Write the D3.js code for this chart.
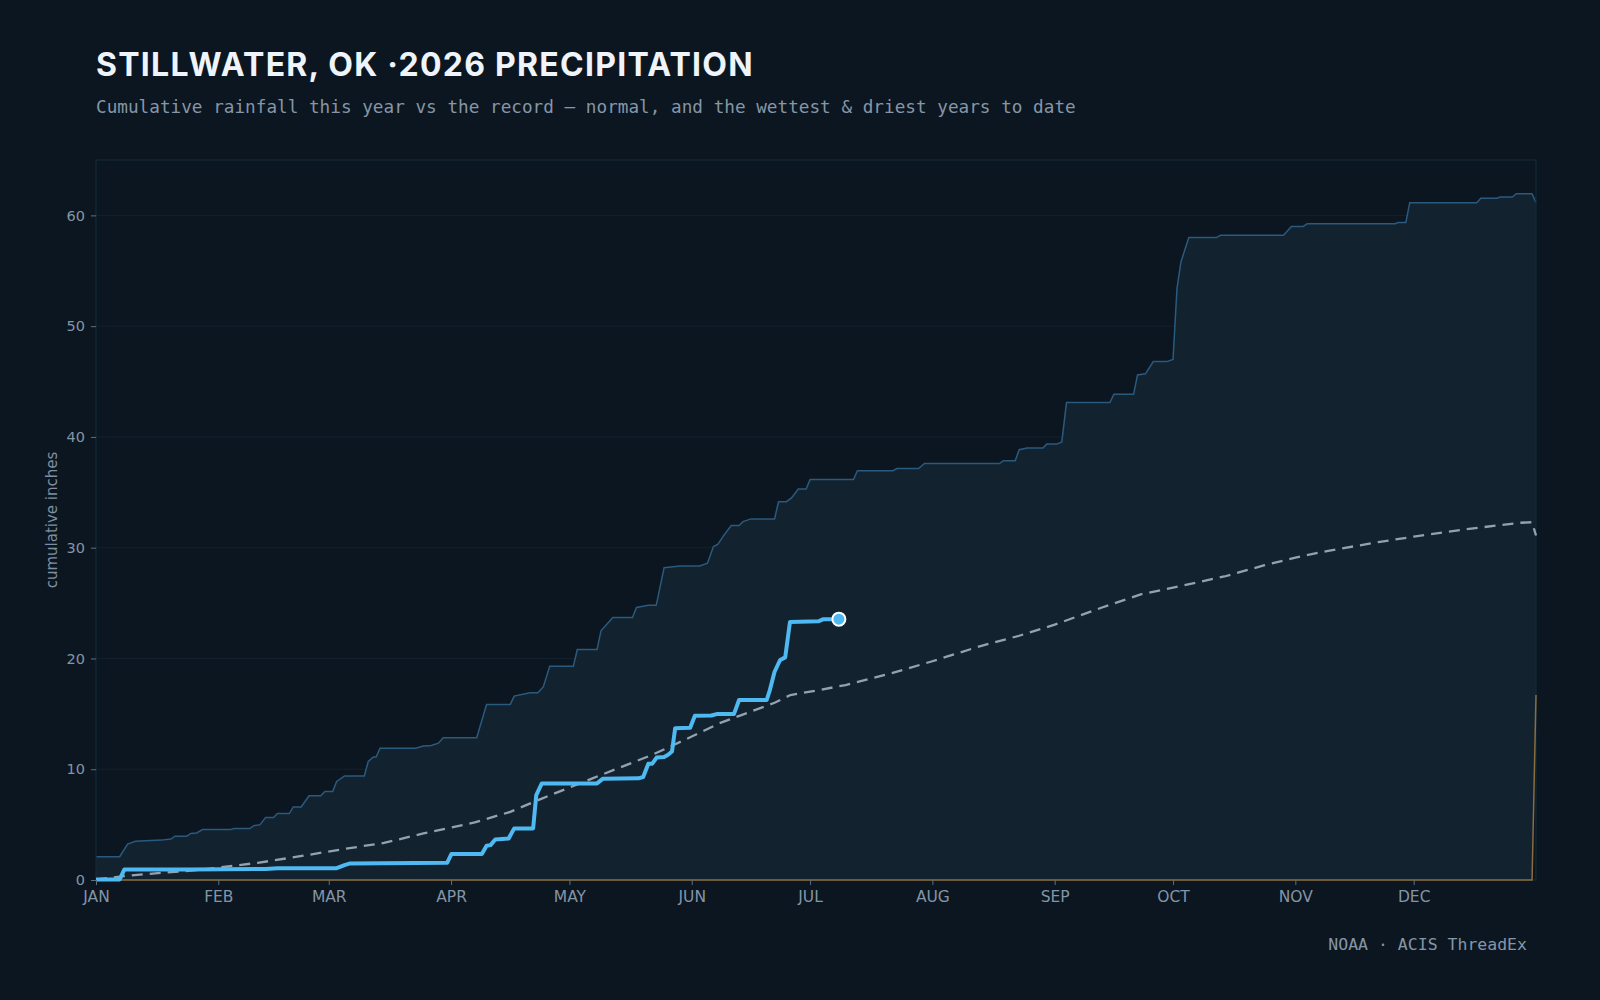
<!DOCTYPE html>
<html>
<head>
<meta charset="utf-8">
<script src="https://cdn.jsdelivr.net/npm/d3@7"></script>
<style>
  html, body { margin: 0; padding: 0; background: #0c1620; }
  svg { display: block; }
</style>
</head>
<body>
<div id="chart"></div>
<script>
// cumulative inches, keyed by day of year (0 = Jan 1)
const wettest = [[0,2.1],[6,2.1],[8,3.25],[10,3.5],[16.5,3.6],[19,3.7],[20,3.95],[23,3.95],[24,4.2],[25.5,4.25],[27,4.55],[34,4.55],[35,4.65],[39,4.65],[40,4.9],[41.6,5.0],[43,5.65],[45,5.65],[46,6.0],[49,6.0],[50,6.6],[52,6.6],[54,7.6],[57,7.6],[58,8.0],[60,8.0],[61,8.9],[63,9.4],[68,9.4],[69,10.7],[70.3,11.1],[71,11.1],[72,11.9],[81,11.9],[83,12.1],[85,12.15],[86.8,12.35],[88,12.85],[96.5,12.85],[99,15.85],[105,15.85],[106,16.6],[110,16.9],[112,16.9],[113.4,17.45],[115,19.3],[121,19.3],[122,20.8],[127,20.8],[128,22.5],[131,23.7],[136,23.7],[137,24.6],[140,24.8],[142,24.8],[144,28.2],[148,28.35],[153,28.35],[155,28.6],[156.5,30.1],[157.6,30.3],[159,31.05],[161,32.0],[163,32.0],[164,32.35],[166,32.6],[172,32.6],[173,34.15],[175,34.15],[176.3,34.5],[178,35.3],[180,35.3],[181,36.15],[192,36.15],[193,36.95],[202,36.95],[203,37.15],[208.5,37.15],[210,37.6],[229,37.6],[230,37.85],[233,37.85],[234,38.85],[236,39.0],[240,39.0],[241,39.35],[243.5,39.35],[244.8,39.55],[246,43.1],[257,43.1],[258,43.85],[263,43.85],[264,45.6],[266,45.7],[268,46.8],[271.4,46.8],[273,47.0],[274,53.4],[275,55.8],[277,58.0],[284,58.0],[285,58.2],[301,58.2],[303,59.0],[306,59.0],[307,59.25],[329.3,59.25],[330,59.35],[332,59.35],[333,61.15],[350,61.15],[351,61.55],[355,61.55],[356,61.65],[359,61.65],[360,61.95],[364,61.95],[365,61.15]];

const driest = [[0,0],[364,0],[365,16.7]];

const normal = [[0,0.05],[7,0.35],[15,0.6],[26,0.9],[41,1.55],[51,2.1],[62,2.75],[73,3.35],[83,4.2],[96,5.2],[105,6.15],[113,7.35],[126,9.2],[141,11.3],[151,12.95],[158,14.15],[172,16.0],[176,16.7],[181,17.0],[190,17.6],[201,18.6],[212,19.75],[224,21.1],[234,22.05],[243,23.05],[255,24.6],[265,25.8],[273,26.4],[286,27.4],[296,28.4],[304,29.1],[312,29.7],[325,30.5],[334,31.0],[348,31.7],[361,32.25],[364,32.3],[365,31.1]];

const thisYear = [[0,0.05],[6,0.05],[7.2,0.95],[24,0.95],[43,1.0],[46,1.07],[61,1.07],[63,1.35],[64.4,1.5],[89,1.55],[90.1,2.35],[97.8,2.35],[99,3.1],[100,3.15],[101.2,3.65],[104.6,3.75],[106,4.66],[110.8,4.66],[111.6,7.67],[113,8.72],[127,8.72],[128.5,9.15],[137.5,9.18],[138.7,9.3],[140,10.5],[141,10.5],[142.1,11.05],[144,11.1],[145,11.3],[146,11.6],[146.8,13.7],[150.6,13.75],[151.8,14.83],[156,14.85],[157.3,14.98],[161.7,14.98],[163,16.25],[170,16.25],[170.8,17.15],[172,18.8],[173.4,19.86],[174.7,20.1],[175.9,23.3],[183.1,23.35],[184.4,23.55],[188.3,23.55]];

const yTicks = [0, 10, 20, 30, 40, 50, 60];
const titleText = 'STILLWATER, OK \u00b72026 PRECIPITATION';
const subtitleText = 'Cumulative rainfall this year vs the record \u2014 normal, and the wettest & driest years to date';
const sourceText = 'NOAA \u00b7 ACIS ThreadEx';

const width = 1600;
const height = 1000;
const margin = { top: 160, right: 64, bottom: 120, left: 96 };

const start = Date.UTC(2026, 0, 1);
const dayToDate = d => new Date(start + d * 864e5);

const x = d3.scaleUtc()
  .domain([new Date(start), new Date(Date.UTC(2027, 0, 1))])
  .range([margin.left, width - margin.right]);
const y = d3.scaleLinear()
  .domain([0, 65])
  .range([height - margin.bottom, margin.top]);

const svg = d3.select('#chart').append('svg').attr('width', width).attr('height', height);
svg.append('rect').attr('width', width).attr('height', height).attr('fill', '#0c1620');

// gridlines
svg.append('g')
  .selectAll('line')
  .data(yTicks.filter(d => d > 0))
  .enter().append('line')
  .attr('x1', margin.left).attr('x2', width - margin.right)
  .attr('y1', d => y(d)).attr('y2', d => y(d))
  .attr('stroke', '#13212e').attr('stroke-width', 1);

const line = d3.line().x(d => x(dayToDate(d[0]))).y(d => y(d[1]));

// record band (wettest down to driest)
const band = wettest.concat(driest.slice().reverse());
svg.append('path')
  .attr('d', line(band) + 'Z')
  .attr('fill', '#12222f');

svg.append('path').attr('d', line(wettest))
  .attr('fill', 'none').attr('stroke', '#2b5a7f').attr('stroke-width', 1.5);

// frame
svg.append('rect')
  .attr('x', margin.left).attr('y', margin.top)
  .attr('width', width - margin.left - margin.right)
  .attr('height', height - margin.top - margin.bottom)
  .attr('fill', 'none').attr('stroke', '#172a3a').attr('stroke-width', 1.2);

svg.append('path').attr('d', line(driest))
  .attr('fill', 'none').attr('stroke', '#8a6d40').attr('stroke-width', 1.5);

svg.append('path').attr('d', line(normal))
  .attr('fill', 'none').attr('stroke', '#93a2b1').attr('stroke-width', 2.3)
  .attr('stroke-dasharray', '11,7');

svg.append('path').attr('d', line(thisYear))
  .attr('fill', 'none').attr('stroke', '#4fb9f1').attr('stroke-width', 4)
  .attr('stroke-linejoin', 'round');

const last = thisYear[thisYear.length - 1];
svg.append('circle')
  .attr('cx', x(dayToDate(last[0]))).attr('cy', y(last[1])).attr('r', 6.5)
  .attr('fill', '#4fb9f1').attr('stroke', '#ffffff').attr('stroke-width', 2);

// axes
const months = d3.utcMonth.range(new Date(start), new Date(Date.UTC(2026, 11, 2)));
const xAxis = svg.append('g')
  .attr('transform', `translate(0,${height - margin.bottom})`)
  .call(d3.axisBottom(x).tickValues(months).tickSize(5).tickPadding(6)
    .tickFormat(d => d3.utcFormat('%b')(d).toUpperCase()));
xAxis.select('.domain').remove();
xAxis.selectAll('line').attr('stroke', '#5d6f80');
xAxis.selectAll('text').attr('fill', '#8395a6')
  .style('font-family', 'DejaVu Sans, sans-serif').style('font-size', '15.5px');

const yAxis = svg.append('g')
  .attr('transform', `translate(${margin.left},0)`)
  .call(d3.axisLeft(y).tickValues(yTicks).tickSize(5).tickPadding(6));
yAxis.select('.domain').remove();
yAxis.selectAll('line').attr('stroke', '#5d6f80');
yAxis.selectAll('text').attr('fill', '#8395a6')
  .style('font-family', 'DejaVu Sans, sans-serif').style('font-size', '14.5px');

svg.append('text')
  .attr('transform', `translate(57,${(margin.top + height - margin.bottom) / 2}) rotate(-90)`)
  .attr('text-anchor', 'middle')
  .attr('fill', '#7d8fa0')
  .style('font-family', 'DejaVu Sans, sans-serif').style('font-size', '15px')
  .text('cumulative inches');

// titles
svg.append('text')
  .attr('x', 96).attr('y', 76)
  .attr('fill', '#eef4fa')
  .style('font-family', 'Inter, sans-serif').style('font-weight', 700).style('font-size', '32px')
  .style('letter-spacing', '1.25px')
  .text(titleText);

svg.append('text')
  .attr('x', 96).attr('y', 112.5)
  .attr('fill', '#8596a8')
  .style('font-family', 'DejaVu Sans Mono, monospace').style('font-size', '17.7px')
  .text(subtitleText);

svg.append('text')
  .attr('x', 1527).attr('y', 950)
  .attr('text-anchor', 'end')
  .attr('fill', '#8596a8')
  .style('font-family', 'DejaVu Sans Mono, monospace').style('font-size', '16.5px')
  .text(sourceText);
</script>
</body>
</html>
